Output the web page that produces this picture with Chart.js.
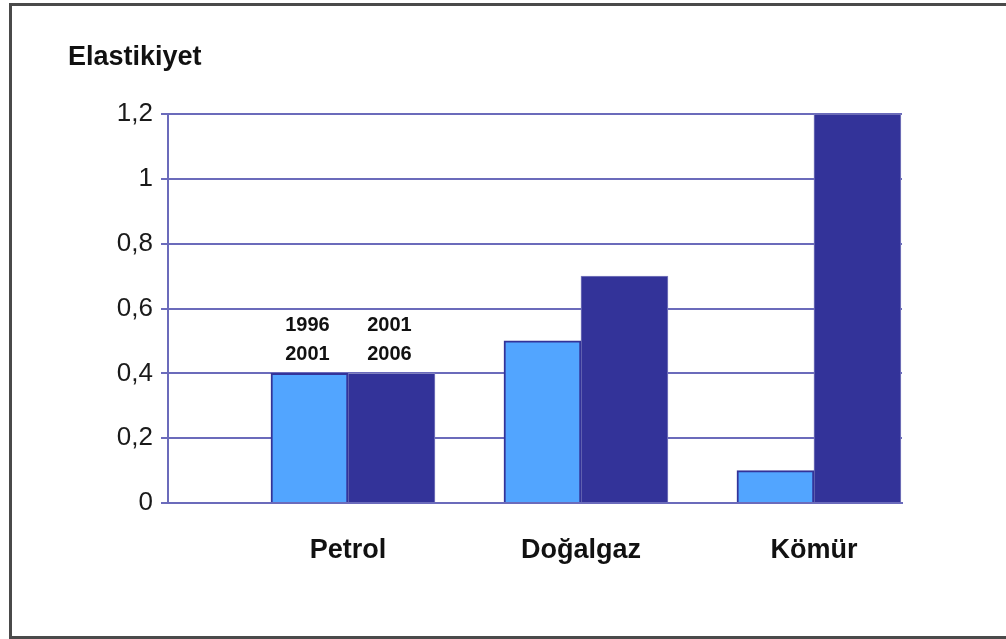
<!DOCTYPE html>
<html>
<head>
<meta charset="utf-8">
<script src="https://cdn.jsdelivr.net/npm/chart.js@4.4.1/dist/chart.umd.min.js"></script>
<style>
  html, body { margin: 0; padding: 0; overflow: hidden; background: #fff; }
  #wrap { position: relative; width: 1006px; height: 639px; }
  #frame { position: absolute; left: 9px; top: 3px; width: 1020px; height: 630px; border: 3px solid #4a4a4a; pointer-events: none; }
  canvas { position: absolute; left: 0; top: 0; }
</style>
</head>
<body>
<div id="wrap">
  <canvas id="c" width="1006" height="639"></canvas>
  <div id="frame"></div>
</div>
<script>
// ---- data ----
const yTitle = 'Elastikiyet';
const categories = ['Petrol', 'Doğalgaz', 'Kömür'];
const period1 = ['1996', '2001'];
const period2 = ['2001', '2006'];
const values1 = [0.4, 0.5, 0.1];
const values2 = [0.4, 0.7, 1.2];
const yTicks = [0, 0.2, 0.4, 0.6, 0.8, 1, 1.2];

const FONT = '"Liberation Sans", Arial, sans-serif';
const gridColor = '#6b6bbb';

const seriesLabelPlugin = {
  id: 'seriesLabels',
  afterDatasetsDraw(chart) {
    const ctx = chart.ctx;
    ctx.save();
    ctx.font = 'bold 20px ' + FONT;
    ctx.fillStyle = '#111';
    ctx.textAlign = 'center';
    ctx.textBaseline = 'middle';
    [period1, period2].forEach((lines, di) => {
      const bar = chart.getDatasetMeta(di).data[0];
      lines.forEach((t, li) => {
        ctx.fillText(t, bar.x - 2, bar.y - 48 + li * 29);
      });
    });
    ctx.restore();
  }
};

new Chart(document.getElementById('c'), {
  type: 'bar',
  data: {
    datasets: [
      {
        label: period1.join('-'),
        data: categories.map((c, i) => ({ x: i, y: values1[i] })),
        backgroundColor: '#52a5ff',
        borderColor: '#333399',
        borderWidth: 2,
        barThickness: 77
      },
      {
        label: period2.join('-'),
        data: categories.map((c, i) => ({ x: i, y: values2[i] })),
        backgroundColor: '#333399',
        borderColor: '#8080c0',
        borderWidth: 1,
        barThickness: 87
      }
    ]
  },
  options: {
    responsive: false,
    animation: false,
    devicePixelRatio: 1,
    layout: { padding: { left: 68, right: 104, top: 0, bottom: 0 } },
    plugins: {
      legend: { display: false },
      tooltip: { enabled: false },
      title: {
        display: true,
        text: yTitle,
        align: 'start',
        color: '#111',
        font: { family: FONT, size: 27, weight: 'bold' },
        padding: { top: 41, bottom: 40.6 }
      }
    },
    scales: {
      x: {
        type: 'linear',
        offset: false,
        bounds: 'data',
        grace: 0,
        min: -0.7725,
        max: 2.378,
        grid: { display: false, drawTicks: false, offset: false },
        border: { display: true, color: gridColor, width: 2 },
        afterBuildTicks(scale) {
          scale.ticks = categories.map((c, i) => ({ value: i }));
        },
        afterFit(scale) { scale.height = 136; },
        ticks: {
          autoSkip: false,
          maxRotation: 0,
          padding: 31,
          color: '#111',
          font: { family: FONT, size: 27, weight: 'bold' },
          callback: (v) => categories[v]
        }
      },
      y: {
        min: 0,
        max: 1.2,
        afterBuildTicks(scale) {
          scale.ticks = yTicks.map(v => ({ value: v }));
        },
        afterFit(scale) { scale.width = 100; },
        grid: { color: gridColor, lineWidth: 2, tickLength: 7, drawTicks: true },
        border: { display: true, color: gridColor, width: 2 },
        ticks: {
          padding: 8,
          color: '#1a1a1a',
          font: { family: FONT, size: 26 },
          callback: (v) => String(Math.round(v * 10) / 10).replace('.', ',')
        }
      }
    }
  },
  plugins: [seriesLabelPlugin]
});
</script>
</body>
</html>
